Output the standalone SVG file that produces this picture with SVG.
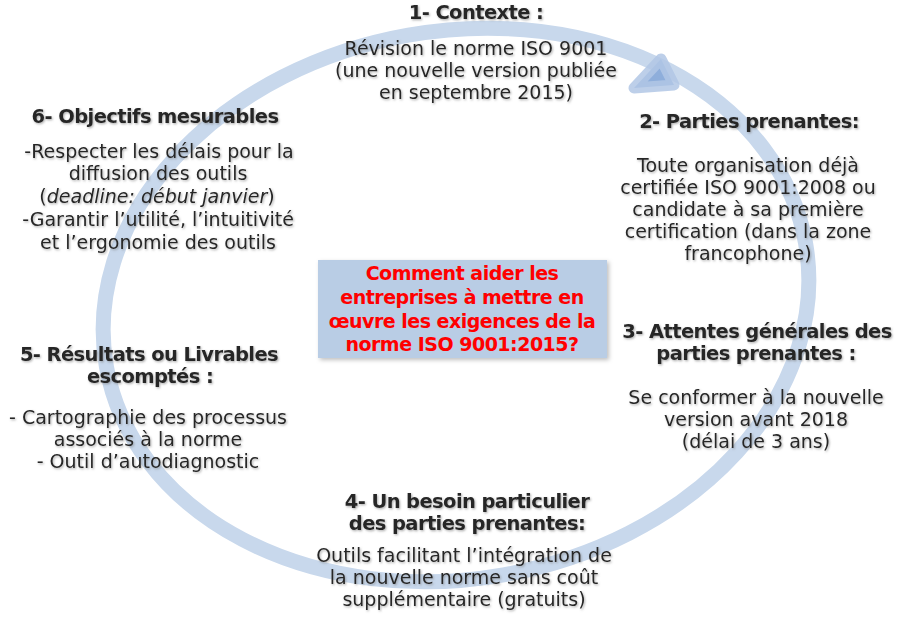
<svg xmlns="http://www.w3.org/2000/svg" width="907" height="619" viewBox="0 0 907 619">
<defs>
<filter id="ts" x="-5%" y="-20%" width="110%" height="150%">
<feDropShadow dx="1" dy="1.2" stdDeviation="1" flood-color="#777" flood-opacity="0.6"/>
</filter>
<filter id="bs" x="-5%" y="-5%" width="112%" height="115%">
<feDropShadow dx="2" dy="2" stdDeviation="2" flood-color="#000" flood-opacity="0.25"/>
</filter>
<style>
text{font-family:"DejaVu Sans",Verdana,sans-serif;text-anchor:middle;fill:#262626}
.h{font-weight:bold;font-size:19.5px;letter-spacing:-0.6px}
.b{font-size:19px;letter-spacing:0px}
.q{font-weight:bold;font-size:19px;letter-spacing:-0.5px;fill:#ff0000}
.t{filter:url(#ts)}
</style>
</defs>
<rect width="907" height="619" fill="#ffffff"/>
<g id="cycle">
<ellipse cx="456" cy="305" rx="355" ry="274" transform="rotate(-10 456 305)" fill="none" stroke="#c8d8ec" stroke-width="15"/>
<polygon points="661,59 634,88 674,85" fill="#8eaedb" stroke="#b1c7e5" stroke-width="11" stroke-linejoin="round" stroke-opacity="0.85"/>
</g>
<g id="question">
<rect x="318" y="260" width="289" height="98" fill="#b9cde5" filter="url(#bs)"/>
<text class="q" x="462" y="280">Comment aider les</text>
<text class="q" x="462" y="304">entreprises à mettre en</text>
<text class="q" x="462" y="328">œuvre les exigences de la</text>
<text class="q" x="462" y="351">norme ISO 9001:2015?</text>
</g>
<g id="n1" class="t">
<text class="h" x="476" y="19">1- Contexte :</text>
<text class="b" x="476" y="55">Révision le norme ISO 9001</text>
<text class="b" x="476" y="77">(une nouvelle version publiée</text>
<text class="b" x="476" y="99">en septembre 2015)</text>
</g>
<g id="n2" class="t">
<text class="h" x="749" y="128">2- Parties prenantes:</text>
<text class="b" x="748" y="172">Toute organisation déjà</text>
<text class="b" x="748" y="194">certifiée ISO 9001:2008 ou</text>
<text class="b" x="748" y="216">candidate à sa première</text>
<text class="b" x="748" y="238">certification (dans la zone</text>
<text class="b" x="748" y="260">francophone)</text>
</g>
<g id="n3" class="t">
<text class="h" x="757" y="338">3- Attentes générales des</text>
<text class="h" x="756" y="360">parties prenantes :</text>
<text class="b" x="756" y="404">Se conformer à la nouvelle</text>
<text class="b" x="756" y="426">version avant 2018</text>
<text class="b" x="756" y="448">(délai de 3 ans)</text>
</g>
<g id="n4" class="t">
<text class="h" x="467" y="508">4- Un besoin particulier</text>
<text class="h" x="467" y="530">des parties prenantes:</text>
<text class="b" x="464" y="562">Outils facilitant l’intégration de</text>
<text class="b" x="464" y="584">la nouvelle norme sans coût</text>
<text class="b" x="464" y="606">supplémentaire (gratuits)</text>
</g>
<g id="n5" class="t">
<text class="h" x="149" y="361">5- Résultats ou Livrables</text>
<text class="h" x="150" y="383">escomptés  :</text>
<text class="b" x="148" y="424">- Cartographie des processus</text>
<text class="b" x="148" y="446">associés à la norme</text>
<text class="b" x="148" y="468">- Outil d’autodiagnostic</text>
</g>
<g id="n6" class="t">
<text class="h" x="155" y="123">6- Objectifs mesurables</text>
<text class="b" x="159" y="158">-Respecter les délais pour la</text>
<text class="b" x="158" y="180">diffusion des outils</text>
<text class="b" x="157" y="203">(<tspan font-style="italic">deadline: début janvier</tspan>)</text>
<text class="b" x="158" y="226">-Garantir l’utilité, l’intuitivité</text>
<text class="b" x="158" y="249">et l’ergonomie des outils</text>
</g>
</svg>
